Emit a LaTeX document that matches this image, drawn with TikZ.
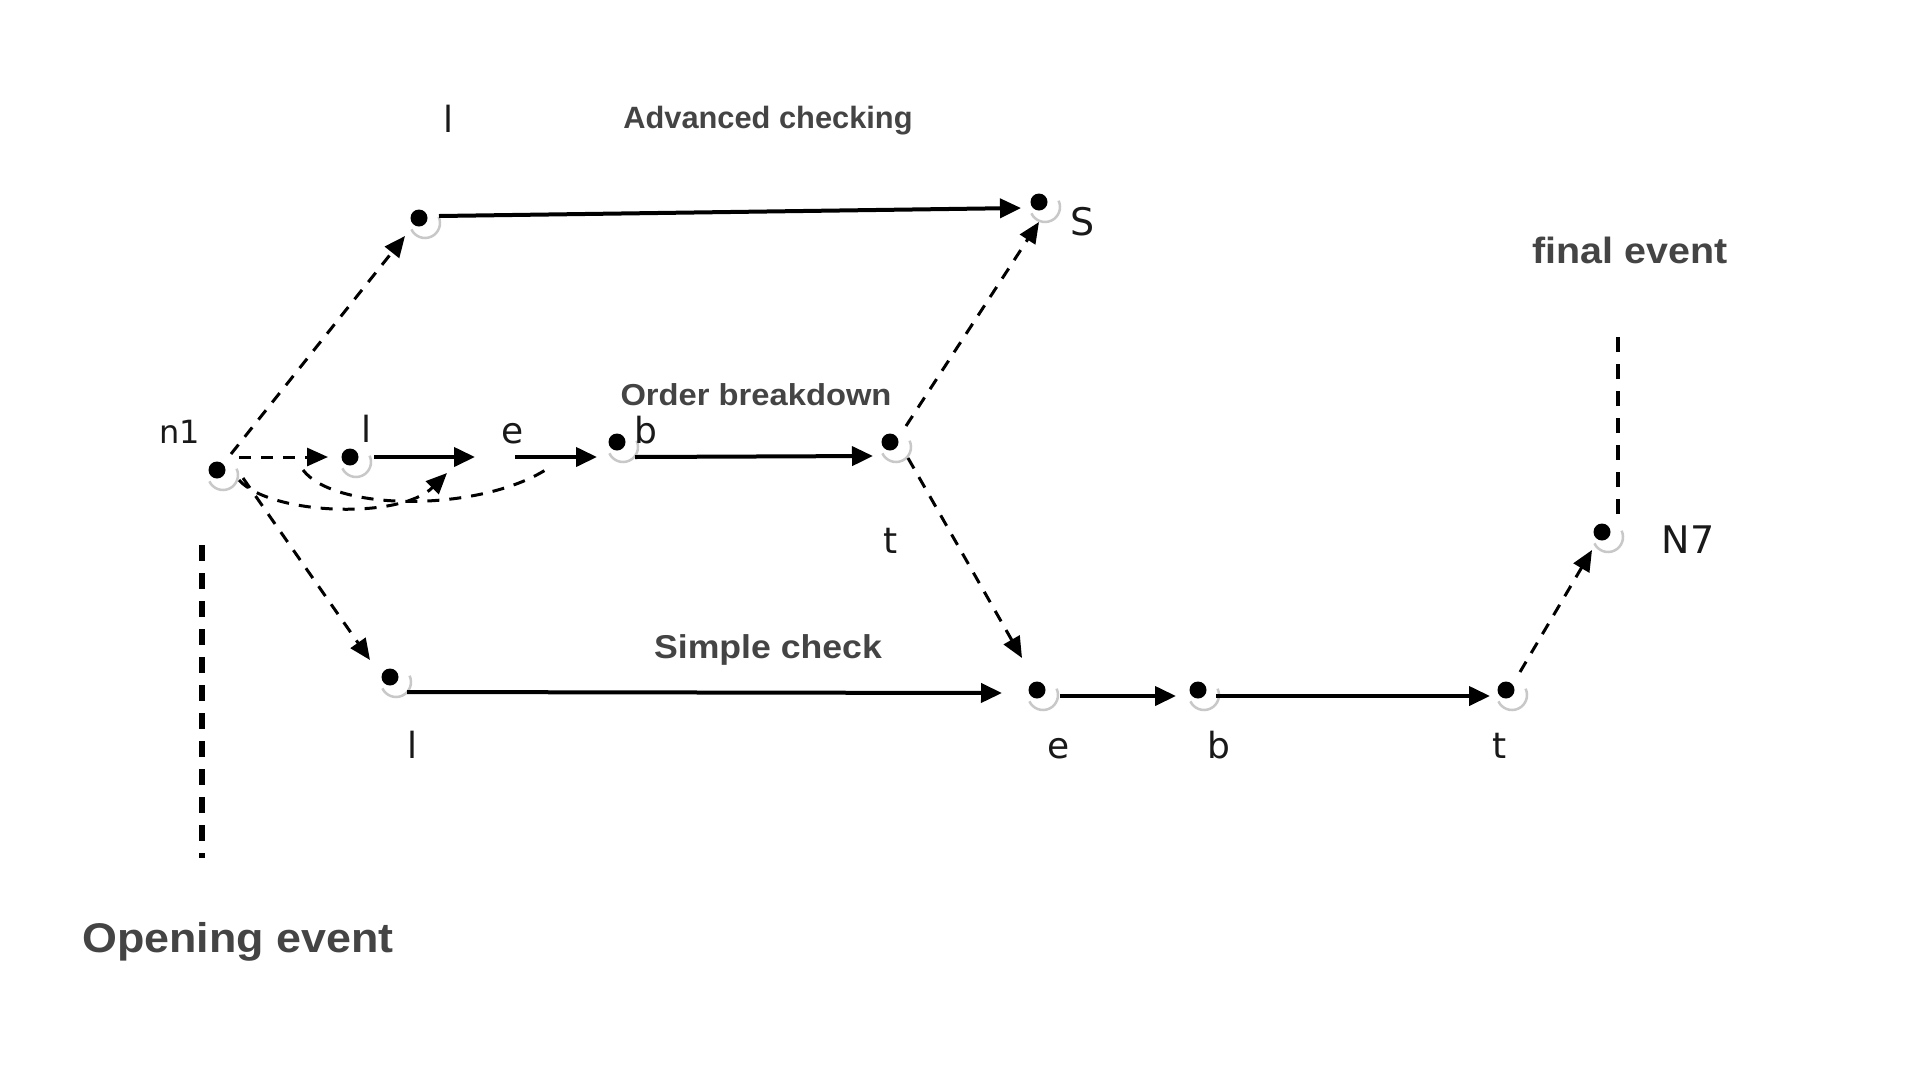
\documentclass[tikz,border=0pt]{standalone}
\usepackage{fontspec}
\setmainfont{Liberation Sans}
\newfontfamily\lblfont{DejaVu Sans}
\usetikzlibrary{arrows.meta,calc}
\definecolor{txtgray}{HTML}{444444}
\definecolor{ringgray}{HTML}{C8C8C8}
\begin{document}
\begin{tikzpicture}[x=1pt,y=-1pt,
  dot/.style={circle,fill=black,inner sep=0pt,minimum size=17pt},
  hub/.style={inner sep=0pt,minimum size=1pt},
  ring/.style={draw=ringgray,line width=2.5pt},
  solidarrow/.style={line width=4pt,-{Triangle[length=21pt,width=19pt]}},
  dasharrow/.style={line width=3pt,dash pattern=on 12pt off 10pt,-{Triangle[length=21pt,width=18pt]}},
  dashcurve/.style={line width=3pt,dash pattern=on 12pt off 10pt},
  guide/.style={line width=3.5pt,dash pattern=on 15pt off 12pt},
  guidethick/.style={line width=6.5pt,dash pattern=on 16pt off 12pt},
  heading/.style={text=txtgray,anchor=base,inner sep=0pt},
  lbl/.style={anchor=base,inner sep=0pt,text=black!90}
]
\fill[white] (0,0) rectangle (1920,1080);
\useasboundingbox (0,0) rectangle (1920,1080);

% event nodes
\node[dot] (n1) at (217,470) {};
\node[dot] (tl) at (419,218) {};
\node[dot] (S)  at (1039,202) {};
\node[dot] (ml) at (350,457) {};
\node[hub] (me) at (495,457) {};
\node[dot] (mb) at (617,442) {};
\node[dot] (mt) at (890,442) {};
\node[dot] (bl) at (390,677) {};
\node[dot] (be) at (1037,690) {};
\node[dot] (bb) at (1198,690) {};
\node[dot] (bt) at (1506,690) {};
\node[dot] (N7) at (1602,532) {};
\coordinate (fetop) at (1618,333);
\coordinate (oetop) at (202,545);
\coordinate (oebot) at (202,858);

\foreach \n in {n1,tl,S,ml,mb,mt,bl,be,bb,bt,N7}
  \draw[ring] ($(\n)+(6,5)$) ++(155:15) arc[start angle=155,end angle=-25,radius=15];

% node labels
\node[lbl,font=\lblfont\fontsize{32}{36}\selectfont] (Ln1) at (180,443) {n1};
\node[lbl,font=\lblfont\fontsize{36}{40}\selectfont] (Ltl) at (448,132) {l};
\node[lbl,font=\lblfont\fontsize{38}{42}\selectfont] (LS) at (1083,235) {S};
\node[lbl,font=\lblfont\fontsize{36}{40}\selectfont] (Lml) at (366,442) {l};
\node[lbl,font=\lblfont\fontsize{36}{40}\selectfont] (Lme) at (513,443) {e};
\node[lbl,font=\lblfont\fontsize{36}{40}\selectfont] (Lmb) at (646,443) {b};
\node[lbl,font=\lblfont\fontsize{36}{40}\selectfont] (Lmt) at (891,553) {t};
\node[lbl,font=\lblfont\fontsize{36}{40}\selectfont] (Lbl) at (412,758) {l};
\node[lbl,font=\lblfont\fontsize{36}{40}\selectfont] (Lbe) at (1059,758) {e};
\node[lbl,font=\lblfont\fontsize{36}{40}\selectfont] (Lbb) at (1219,758) {b};
\node[lbl,font=\lblfont\fontsize{36}{40}\selectfont] (Lbt) at (1500,758) {t};
\node[lbl,font=\lblfont\fontsize{38}{42}\selectfont] (LN7) at (1688,553) {N7};

% headings
\node[heading,font=\bfseries\fontsize{30.8}{36}\selectfont] (hadv) at (768,128) {Advanced checking};
\node[heading,font=\bfseries\fontsize{30.3}{36}\selectfont] (hord) at (756,405) {\scalebox{1.08}[1]{Order breakdown}};
\node[heading,font=\bfseries\fontsize{33}{38}\selectfont] (hsim) at (768,658) {\scalebox{1.08}[1]{Simple check}};
\node[heading,font=\bfseries\fontsize{36.5}{42}\selectfont] (hfin) at (1630,263) {\scalebox{1.08}[1]{final event}};
\node[heading,font=\bfseries\fontsize{41.5}{46}\selectfont] (hope) at (238,952) {\scalebox{1.08}[1]{Opening event}};

% top path
\draw[dasharrow] ($(n1)+(14,-16)$) -- ($(tl)+(-14,18)$);
\draw[solidarrow] ($(tl)+(20,-2)$) -- ($(S)+(-18,6)$);
\draw[dasharrow] ($(mt)+(16,-16)$) -- ($(S)+(0,20)$);

% middle path
\draw[dasharrow] ($(n1)+(22,-13)$) -- ($(ml)+(-22,0)$);
\draw[solidarrow] ($(ml)+(24,0)$) -- ($(me)+(-20,0)$);
\draw[solidarrow] ($(me)+(20,0)$) -- ($(mb)+(-20,15)$);
\draw[solidarrow] ($(mb)+(18,15)$) -- ($(mt)+(-17,14)$);
\draw[dasharrow] ($(n1)+(22,10)$) .. controls (270,515) and (400,520) .. ($(me)+(-48,16)$);
\draw[dashcurve] ($(ml)+(-47,13)$) .. controls (335,512) and (480,512) .. ($(mb)+(-70,27)$);

% bottom path
\draw[dasharrow] ($(n1)+(26,8)$) -- ($(bl)+(-20,-17)$);
\draw[dasharrow] ($(mt)+(18,16)$) -- ($(be)+(-15,-32)$);
\draw[solidarrow] ($(bl)+(17,15)$) -- ($(be)+(-35,3)$);
\draw[solidarrow] ($(be)+(23,6)$) -- ($(bb)+(-22,6)$);
\draw[solidarrow] ($(bb)+(18,6)$) -- ($(bt)+(-16,6)$);
\draw[dasharrow] ($(bt)+(14,-18)$) -- ($(N7)+(-10,18)$);

% event guides
\draw[guide] ($(N7)+(16,-18)$) -- (fetop);
\draw[guidethick] (oetop) -- (oebot);
\end{tikzpicture}
\end{document}
